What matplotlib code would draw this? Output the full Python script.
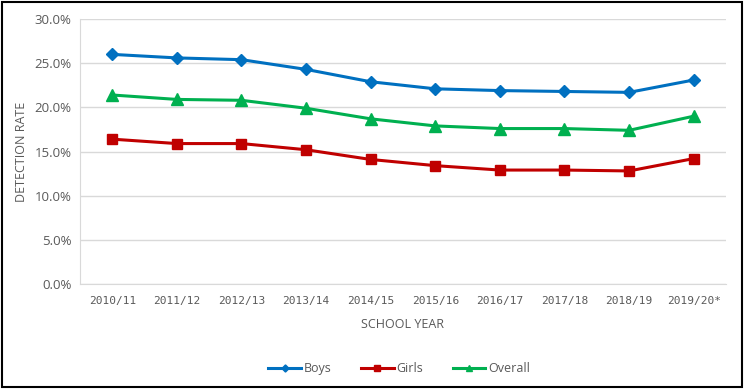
import matplotlib.pyplot as plt
from matplotlib.ticker import PercentFormatter

# Data -----------------------------------------------------------------
years = ['2010/11', '2011/12', '2012/13', '2013/14', '2014/15',
         '2015/16', '2016/17', '2017/18', '2018/19', '2019/20*']
boys = [26.0, 25.6, 25.4, 24.3, 22.9, 22.1, 21.9, 21.8, 21.7, 23.1]
girls = [16.4, 15.9, 15.9, 15.2, 14.1, 13.4, 12.9, 12.9, 12.8, 14.2]
overall = [21.4, 20.9, 20.8, 19.9, 18.7, 17.9, 17.6, 17.6, 17.4, 19.0]

grey = '#595959'
plt.rcParams['font.family'] = ['Open Sans', 'DejaVu Sans']

fig = plt.figure(figsize=(7.46, 3.89), dpi=100)
ax = fig.add_axes([0.1072, 0.27, 0.866, 0.681])

x = range(len(years))
ax.plot(x, boys, label='Boys', color='#0070C0', lw=2.2, marker='D', ms=6)
ax.plot(x, girls, label='Girls', color='#C00000', lw=2.2, marker='s', ms=7)
ax.plot(x, overall, label='Overall', color='#00B050', lw=2.2, marker='^', ms=8)

ax.set_xlim(-0.5, len(years) - 0.5)
ax.set_ylim(0, 30)
ax.set_yticks(range(0, 31, 5))
ax.yaxis.set_major_formatter(PercentFormatter(decimals=1))
ax.set_xticks(list(x))
ax.set_xticklabels(years, family='DejaVu Sans Mono', fontsize=8, color=grey)
ax.tick_params(axis='y', labelsize=9.5, colors=grey, length=0, pad=6)
ax.tick_params(axis='x', length=0, pad=9)
ax.grid(axis='y', color='#D9D9D9', lw=1)
ax.set_axisbelow(True)
for s in ['top', 'right']:
    ax.spines[s].set_visible(False)
ax.spines['left'].set_color('#D9D9D9')
ax.spines['bottom'].set_color('#D9D9D9')

ax.set_xlabel('SCHOOL YEAR', fontsize=9, color=grey, labelpad=8)
ax.set_ylabel('DETECTION RATE', fontsize=9, color=grey, labelpad=5)

fig.legend(loc='center', bbox_to_anchor=(0.535, 0.053), ncol=3, frameon=False,
           fontsize=9, labelcolor=grey, handlelength=2.6, handletextpad=0.2,
           columnspacing=2.4, markerscale=0.6)

# black frame around the whole chart
fig.patches.append(plt.Rectangle((0.003, 0.005), 0.991, 0.99, transform=fig.transFigure,
                                 fill=False, edgecolor='black', lw=1.5))

fig.savefig('out.png', dpi=100)
